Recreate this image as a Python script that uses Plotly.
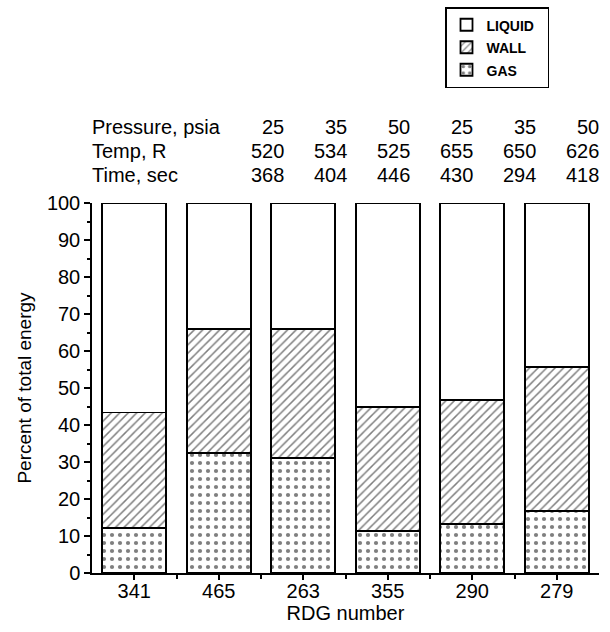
import plotly.graph_objects as go

# ---- data ----
rdg = ["341", "465", "263", "355", "290", "279"]
gas = [12.2, 32.4, 31.0, 11.4, 13.3, 16.7]
wall_top = [43.4, 66.0, 66.0, 44.9, 46.7, 55.6]
wall = [round(t - g, 1) for t, g in zip(wall_top, gas)]
liquid = [round(100 - t, 1) for t in wall_top]

pressure = ["25", "35", "50", "25", "35", "50"]
temp = ["520", "534", "525", "655", "650", "626"]
time_s = ["368", "404", "446", "430", "294", "418"]
row_labels = ["Pressure, psia", "Temp, R", "Time, sec"]

FONT = "Liberation Sans, Arial, sans-serif"
W, H = 610, 632
L, R, T, B = 92, 11, 203, 59
pw = W - L - R
ph = H - T - B

xs = list(range(len(rdg)))
fig = go.Figure()
common = dict(marker_line_color="black", marker_line_width=1.8, width=0.76, cliponaxis=False)
fig.add_trace(go.Bar(x=xs, y=gas, name="GAS",
                     marker=dict(color="white",
                                 pattern=dict(shape=".", size=8, solidity=0.22,
                                              fgcolor="black", bgcolor="white", fillmode="overlay")),
                     **common))
fig.add_trace(go.Bar(x=xs, y=wall, name="WALL",
                     marker=dict(color="white",
                                 pattern=dict(shape="/", size=6, solidity=0.25,
                                              fgcolor="black", bgcolor="white", fillmode="overlay")),
                     **common))
fig.add_trace(go.Bar(x=xs, y=liquid, name="LIQUID",
                     marker=dict(color="white"), **common))

# header table
col_right = [286, 349, 412, 475, 538, 601]
row_y = [127, 151, 175]
rows = [pressure, temp, time_s]
for ry, lab, vals in zip(row_y, row_labels, rows):
    fig.add_annotation(text=lab, xref="paper", yref="paper",
                       x=(90 - L) / pw, y=1 + (T - ry) / ph,
                       xanchor="left", yanchor="middle", showarrow=False,
                       font=dict(family=FONT, size=20, color="black"))
    for cx, v in zip(col_right, vals):
        fig.add_annotation(text=v, xref="paper", yref="paper",
                           x=(cx - L) / pw, y=1 + (T - ry) / ph,
                           xanchor="right", yanchor="middle", showarrow=False,
                           font=dict(family=FONT, size=20, color="black"))

fig.update_layout(
    width=W, height=H, autosize=False,
    margin=dict(l=L, r=R, t=T, b=B, autoexpand=False),
    paper_bgcolor="white", plot_bgcolor="white",
    barmode="stack",
    font=dict(family=FONT, size=20, color="black"),
    legend=dict(xref="paper", yref="paper",
                x=(445 - L) / pw, y=1 + (T - 7) / ph, xanchor="left", yanchor="top",
                traceorder="reversed", bordercolor="black", borderwidth=1.5,
                bgcolor="white", font=dict(family=FONT, size=15, color="black"),
                itemwidth=30),
    xaxis=dict(range=[-0.5, 5.5], tickmode="array", tickvals=xs, ticktext=rdg,
               ticks="outside", ticklen=5, tickwidth=1.5, tickcolor="black",
               showline=True, linecolor="black", linewidth=1.5,
               showgrid=False, zeroline=False,
               minor=dict(tickmode="array", tickvals=[0.5, 1.5, 2.5, 3.5, 4.5],
                          ticks="outside", ticklen=4, tickwidth=1.5, tickcolor="black",
                          showgrid=False),
               title=dict(text="RDG number", standoff=5,
                          font=dict(family=FONT, size=20, color="black")),
               tickfont=dict(family=FONT, size=20, color="black")),
    yaxis=dict(range=[0, 100], tickmode="linear", tick0=0, dtick=10,
               ticks="outside", ticklen=6, tickwidth=1.5, tickcolor="black",
               showline=True, linecolor="black", linewidth=1.5,
               showgrid=False, zeroline=False,
               minor=dict(dtick=5, ticks="outside", ticklen=3, tickwidth=1.5,
                          tickcolor="black", showgrid=False),
               title=dict(text="Percent of total energy", standoff=10,
                          font=dict(family=FONT, size=19, color="black")),
               tickfont=dict(family=FONT, size=20, color="black")),
)
try:
    fig.update_xaxes(ticklabelstandoff=-6)
except Exception:
    pass

# make legend labels smaller than the legend row height
for tr in fig.data:
    pad = "&nbsp;&nbsp;" if tr.name == "LIQUID" else ""
    tr.name = '<span style="font-size:14px;font-weight:bold">' + tr.name + pad + '</span>'

fig.write_html("out.html", config={"displayModeBar": False},
               post_script="document.body.style.margin='0';document.body.style.padding='0';")
